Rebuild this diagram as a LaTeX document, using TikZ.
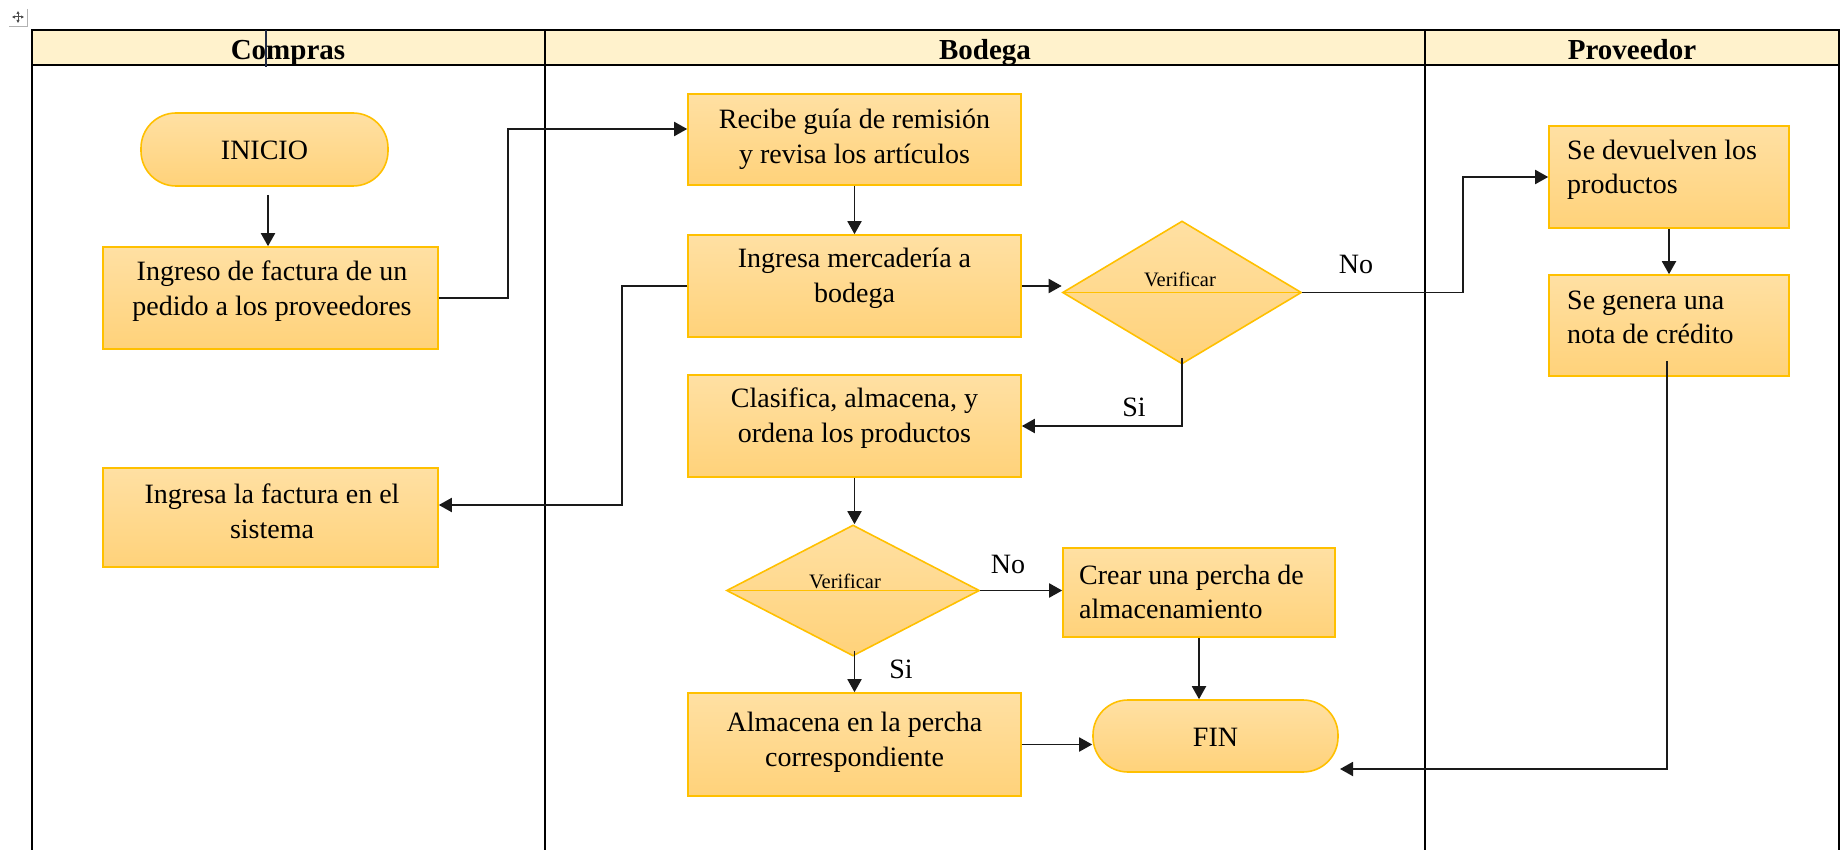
\documentclass[tikz,border=0pt]{standalone}
\usepackage{fontspec}
\setmainfont{Liberation Serif}
\usetikzlibrary{arrows.meta,shapes.geometric,calc}
\definecolor{gold}{HTML}{FFC000}
\definecolor{ftop}{HTML}{FFE0A3}
\definecolor{fbot}{HTML}{FFD27A}
\definecolor{hdr}{HTML}{FFF2CC}
\definecolor{lin}{HTML}{1A1A1A}
\definecolor{cursorc}{HTML}{1F2A44}
\tikzset{
  procbox/.style={draw=gold, line width=1.6pt, top color=ftop, bottom color=fbot, inner sep=0pt},
  termbox/.style={procbox, rounded corners=35pt},
  decis/.style={diamond, procbox},
  txt/.style={font=\fontsize{28}{35}\selectfont, align=center, inner sep=0pt},
  ltxt/.style={font=\fontsize{28}{34}\selectfont, align=left, inner sep=0pt, anchor=west},
  vtxt/.style={font=\fontsize{20.5}{24}\selectfont, inner sep=0pt},
  hdrtxt/.style={font=\fontsize{29}{34}\selectfont\bfseries, inner sep=0pt, anchor=base},
  arr/.style={draw=lin, line width=1.9pt, -{Triangle[length=13pt,width=14pt]}},
  grid/.style={draw=black, line width=2pt},
}
\begin{document}
\begin{tikzpicture}[x=1pt,y=-1pt]
\useasboundingbox (0,0) rectangle (1843,850);
% move icon
\draw[gray!60, line width=1pt] (27,9) -- (27,27) -- (9,27);
\draw[black!70, line width=1pt, {Triangle[length=3pt,width=3pt]}-{Triangle[length=3pt,width=3pt]}] (12,17) -- (24,17);
\draw[black!70, line width=1pt, {Triangle[length=3pt,width=3pt]}-{Triangle[length=3pt,width=3pt]}] (18,11) -- (18,23);
% table
\fill[hdr] (32,30) rectangle (1839,65);
\draw[grid] (32,850) -- (32,30) -- (1839,30) -- (1839,850);
\draw[grid] (32,65) -- (1839,65);
\draw[grid] (545,30) -- (545,850);
\draw[grid] (1425,30) -- (1425,850);
\node[hdrtxt] (hcompras) at (288,60) {Compras};
\node[hdrtxt] (hbodega) at (985,60) {Bodega};
\node[hdrtxt] (hprov) at (1632,60) {Proveedor};
\draw[cursorc, line width=1.2pt] (266,30) -- (266,67);

% nodes
\node[termbox, minimum width=247pt, minimum height=73pt] (inicio) at (264.5,149.5) {};
\node[txt] (tinicio) at (264.5,150) {INICIO};
\node[procbox, minimum width=335pt, minimum height=102pt] (ingreso) at (270.5,298) {};
\node[txt] (tingreso) at (272,291) {Ingreso de factura de un\\pedido a los proveedores};
\node[procbox, minimum width=335pt, minimum height=99pt] (ingfac) at (270.5,517.5) {};
\node[txt] (tingfac) at (272,511) {Ingresa la factura en el\\sistema};

\node[procbox, minimum width=333pt, minimum height=91pt] (recibe) at (854.5,139.5) {};
\node[txt] (trecibe) at (854.5,139) {Recibe guía de remisión\\y revisa los artículos};
\node[procbox, minimum width=333pt, minimum height=102pt] (merc) at (854.5,286) {};
\node[txt] (tmerc) at (854.5,278) {Ingresa mercadería a\\bodega};
\node[decis, minimum width=239pt, minimum height=143pt] (v1) at (1182,292.5) {};
\draw[gold, line width=1.6pt] (v1.west) -- (v1.east);
\node[vtxt] (tv1) at (1180,279) {Verificar};
\node[procbox, minimum width=333pt, minimum height=102pt] (clasif) at (854.5,426) {};
\node[txt] (tclasif) at (854.5,418) {Clasifica, almacena, y\\ordena los productos};
\node[decis, minimum width=253pt, minimum height=131pt] (v2) at (853,590.5) {};
\draw[gold, line width=1.6pt] (v2.west) -- (v2.east);
\node[vtxt] (tv2) at (845,581) {Verificar};
\node[procbox, minimum width=272pt, minimum height=89pt] (crear) at (1199,592.5) {};
\node[ltxt] (tcrear) at (1079,592) {Crear una percha de\\almacenamiento};
\node[procbox, minimum width=333pt, minimum height=103pt] (almac) at (854.5,744.5) {};
\node[txt] (talmac) at (854.5,742) {Almacena en la percha\\correspondiente};
\node[termbox, minimum width=245pt, minimum height=72pt] (fin) at (1215.5,736) {};
\node[txt] (tfin) at (1215.5,737) {FIN};

\node[procbox, minimum width=240pt, minimum height=102pt] (devuel) at (1669,177) {};
\node[ltxt] (tdevuel) at (1567,170) {Se devuelven los\\productos};
\node[procbox, minimum width=240pt, minimum height=101pt] (genera) at (1669,325.5) {};
\node[ltxt] (tgenera) at (1567,317) {Se genera una\\nota de crédito};

% labels
\node[txt] (lno1) at (1356,264) {No};
\node[txt] (lsi1) at (1134,407) {Si};
\node[txt] (lno2) at (1008,564) {No};
\node[txt] (lsi2) at (901,669) {Si};

\coordinate (finR) at (1340,769);

% connectors
\draw[arr] ([xshift=3.5pt,yshift=-8pt]inicio.south) -- ([xshift=3.5pt]inicio.south |- ingreso.north);
\draw[arr] (ingreso.east) -- ++(69,0) |- ([yshift=10.5pt]recibe.west);
\draw[arr] (recibe.south) -- (merc.north);
\draw[arr] (merc.west) -- ++(-65,0) |- ([yshift=12.5pt]ingfac.east);
\draw[arr] (merc.east) -- (merc.east -| v1.west);
\draw[arr] (v1.east) -- ++(161,0) |- (devuel.west);
\draw[arr] ([yshift=7pt]v1.south) |- (clasif.east);
\draw[arr] (clasif.south) -- (clasif.south |- v2.north);
\draw[arr] (v2.east) -- (v2.east -| crear.west);
\draw[arr] ([xshift=1.5pt,yshift=6pt]v2.south) -- ([xshift=1.5pt]v2.south |- almac.north);
\draw[arr] (crear.south) -- (crear.south |- fin.north);
\draw[arr] (almac.east) -- (almac.east -| fin.west);
\draw[arr] (devuel.south) -- (genera.north);
\draw[arr] ([xshift=-2pt,yshift=16pt]genera.south) |- (finR);
\end{tikzpicture}
\end{document}
